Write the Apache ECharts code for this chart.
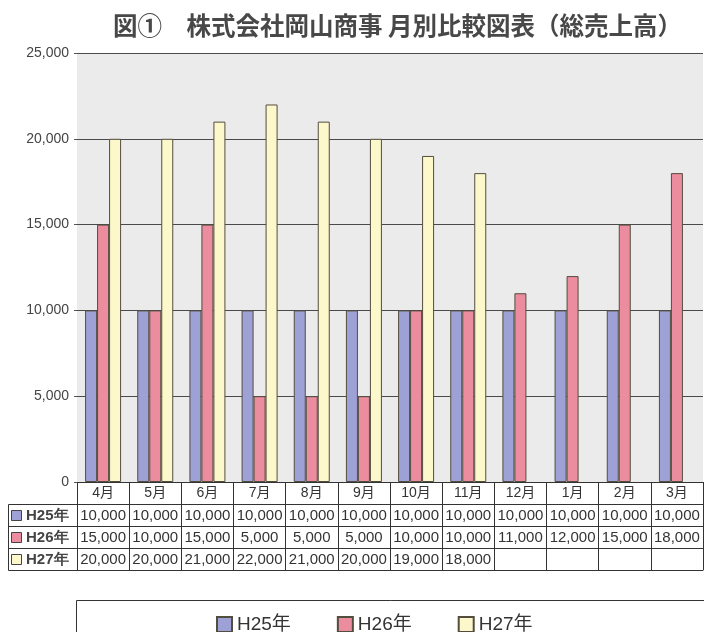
<!DOCTYPE html>
<html><head><meta charset="utf-8">
<script src="https://cdn.jsdelivr.net/npm/echarts@6/dist/echarts.min.js"></script>
<style>html,body{margin:0;padding:0;background:#fff}#c{width:704px;height:632px}</style>
</head><body><div id="c"></div>
<script>
const months = ['4月','5月','6月','7月','8月','9月','10月','11月','12月','1月','2月','3月'];
const seriesNames = ['H25年','H26年','H27年'];
const h25 = [10000,10000,10000,10000,10000,10000,10000,10000,10000,10000,10000,10000];
const h26 = [15000,10000,15000,5000,5000,5000,10000,10000,11000,12000,15000,18000];
const h27 = [20000,20000,21000,22000,21000,20000,19000,18000,null,null,null,null];
const yMin = 0, yMax = 25000, yStep = 5000;
const titleText = '図①　株式会社岡山商事 月別比較図表（総売上高）';

const colors = ['#9ea1d6','#ec8c9f','#fcf8cb'];
const borderC = '#524e3e';
const FONT = '"Liberation Sans", "Noto Sans CJK JP", sans-serif';
const fmt = v => (v == null ? '' : v.toLocaleString('en-US'));
const allData = [h25, h26, h27];

const chart = echarts.init(document.getElementById('c'), null, {renderer:'canvas'});
const rowH = 22;
const gridBottomY = 482;
const tableLeft = 8, tableMid = 77;

const xAxes = [{
  type:'category', data: months, position:'bottom', offset:0,
  axisLine:{show:true, lineStyle:{color:'#333', width:1}},
  axisTick:{show:true, interval:0, length: rowH*4, lineStyle:{color:'#333'}},
  axisLabel:{interval:0, margin:4, fontSize:14, color:'#333', fontFamily:FONT}
}];
allData.forEach((arr, k) => {
  xAxes.push({
    type:'category', data: months, position:'bottom', offset: rowH*(k+1),
    axisLine:{show:true, lineStyle:{color:'#333', width:1}},
    axisTick:{show:false},
    axisLabel:{interval:0, margin:4, fontSize:15, color:'#333', fontFamily:FONT,
      formatter:(v, i) => fmt(arr[i])}
  });
});
xAxes.push({
  type:'category', data: months, position:'bottom', offset: rowH*4,
  axisLine:{show:true, lineStyle:{color:'#333', width:1}},
  axisTick:{show:false}, axisLabel:{show:false}
});

const graphics = [
  {type:'rect', z:-10, shape:{x:76.5, y:600.5, width:700, height:60}, style:{fill:'#fff', stroke:'#333', lineWidth:1}},
  {type:'rect', shape:{x:tableLeft+0.5, y:gridBottomY+rowH+0.5, width:tableMid-tableLeft, height:rowH*3}, style:{fill:'none', stroke:'#333', lineWidth:1}}
];
for (let k = 1; k < 3; k++) {
  graphics.push({type:'line', shape:{x1:tableLeft, y1:gridBottomY+rowH*(k+1)+0.5, x2:tableMid, y2:gridBottomY+rowH*(k+1)+0.5}, style:{stroke:'#333', lineWidth:1}});
}
seriesNames.forEach((nm, k) => {
  const top = gridBottomY + rowH*(k+1);
  graphics.push({type:'rect', shape:{x:11.5, y:top+6.5, width:10, height:10}, style:{fill:colors[k], stroke:'#444', lineWidth:1}});
  graphics.push({type:'text', x:26, y:top+rowH/2+1, style:{text:nm, fontSize:15, fontWeight:'bold', fill:'#444', font:'bold 15px ' + FONT, verticalAlign:'middle', textVerticalAlign:'middle'}});
});

chart.setOption({
  backgroundColor:'#fff',
  animation:false,
  title:{text:titleText, left:108, top:8, textStyle:{fontSize:24.5, fontWeight:'bold', color:'#484848', fontFamily:'"Noto Sans CJK JP", sans-serif'}},
  grid:{left:77, right:1, top:53, bottom:632-gridBottomY, show:true, backgroundColor:'#ebebeb', borderWidth:0},
  legend:{data:seriesNames, icon:'rect', left:211, top:610, itemWidth:15, itemHeight:15, itemGap:46,
    textStyle:{fontSize:19, color:'#333', fontFamily:FONT}},
  xAxis: xAxes,
  yAxis:{type:'value', min:yMin, max:yMax, interval:yStep,
    axisLine:{show:false}, axisTick:{show:true, length:3, lineStyle:{color:'#555'}},
    splitLine:{show:true, lineStyle:{color:'#4a4a4a', width:1.2}},
    axisLabel:{margin:8, fontSize:14, color:'#444', fontFamily:FONT, formatter:v => fmt(v)}},
  series: allData.map((arr, k) => ({
    name: seriesNames[k], type:'bar', xAxisIndex:0, data: arr,
    barWidth:12, barGap:'0%',
    itemStyle:{color:colors[k], borderColor:borderC, borderWidth:1}
  })),
  graphic: graphics
});
</script></body></html>
